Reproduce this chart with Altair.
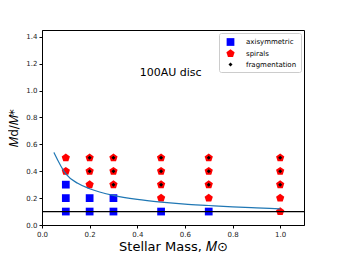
import altair as alt
import pandas as pd

# --- data ---
axi_x = [0.1, 0.1, 0.1, 0.2, 0.2, 0.3, 0.3, 0.5, 0.7]
axi_y = [0.1, 0.2, 0.3, 0.1, 0.2, 0.1, 0.2, 0.1, 0.1]

spi_x = [0.1, 0.1, 0.2, 0.2, 0.2, 0.3, 0.3, 0.3, 0.5, 0.5, 0.5, 0.5,
         0.7, 0.7, 0.7, 0.7, 1.0, 1.0, 1.0, 1.0, 1.0]
spi_y = [0.4, 0.5, 0.3, 0.4, 0.5, 0.3, 0.4, 0.5, 0.2, 0.3, 0.4, 0.5,
         0.2, 0.3, 0.4, 0.5, 0.1, 0.2, 0.3, 0.4, 0.5]

fra_x = [0.2, 0.2, 0.3, 0.3, 0.3, 0.5, 0.5, 0.5, 0.7, 0.7, 0.7, 1.0, 1.0, 1.0]
fra_y = [0.4, 0.5, 0.3, 0.4, 0.5, 0.3, 0.4, 0.5, 0.3, 0.4, 0.5, 0.3, 0.4, 0.5]

curve_x = [0.05, 0.1, 0.15, 0.2, 0.3, 0.4, 0.5, 0.6, 0.7, 0.8, 0.9, 1.0]
curve_y = [0.54, 0.38, 0.31, 0.27, 0.22, 0.19, 0.17, 0.155, 0.145, 0.135, 0.127, 0.12]

hline_y = [0.1]

x_ticks = [0, 0.2, 0.4, 0.6, 0.8, 1.0]
y_ticks = [0, 0.2, 0.4, 0.6, 0.8, 1.0, 1.2, 1.4]

categories = ["axisymmetric", "spirals", "fragmentation"]
colors = ["#0000ff", "#ff0000", "#000000"]
pentagon = "M0,-1L0.951,-0.309L0.588,0.809L-0.588,0.809L-0.951,-0.309Z"
shapes = ["square", pentagon, "diamond"]
sizes = [60, 75, 16]

pts = pd.DataFrame(
    {"x": axi_x + spi_x + fra_x,
     "y": axi_y + spi_y + fra_y,
     "kind": [categories[0]] * len(axi_x) + [categories[1]] * len(spi_x) + [categories[2]] * len(fra_x)}
)
pts["order"] = pts["kind"].map({c: i for i, c in enumerate(categories)})

xs = alt.Scale(domain=[0, 1.1], nice=False, zero=False)
ys = alt.Scale(domain=[0, 1.45], nice=False, zero=False)

xax = alt.Axis(values=x_ticks, format=".1f", title="Stellar Mass, 𝑀⊙",
               titleFontSize=13, titleFontWeight="normal", titlePadding=3, labelOverlap=False)
yax = alt.Axis(values=y_ticks, format=".1f", title="𝑀d/𝑀*",
               titleFontSize=12, titleFontWeight="normal", titlePadding=5, labelOverlap=False)

points = alt.Chart(pts).mark_point(filled=True, opacity=1, strokeWidth=0).encode(
    x=alt.X("x:Q", scale=xs, axis=xax),
    y=alt.Y("y:Q", scale=ys, axis=yax),
    color=alt.Color("kind:N", scale=alt.Scale(domain=categories, range=colors), legend=alt.Legend(title=None)),
    shape=alt.Shape("kind:N", scale=alt.Scale(domain=categories, range=shapes), legend=alt.Legend(title=None)),
    size=alt.Size("kind:N", scale=alt.Scale(type="ordinal", domain=categories, range=sizes),
                  legend=alt.Legend(title=None)),
    order=alt.Order("order:Q"),
)

curve = alt.Chart(pd.DataFrame({"x": curve_x, "y": curve_y})).mark_line(
    color="#1f77b4", strokeWidth=1.2, interpolate="monotone"
).encode(x=alt.X("x:Q", scale=xs, axis=xax), y=alt.Y("y:Q", scale=ys, axis=yax))

hline = alt.Chart(pd.DataFrame({"y": hline_y})).mark_rule(color="black", strokeWidth=1.2).encode(
    y=alt.Y("y:Q", scale=ys, axis=yax)
)

label = alt.Chart(pd.DataFrame({"t": ["100AU disc"]})).mark_text(
    fontSize=11, font="DejaVu Sans", color="black"
).encode(x=alt.datum(0.54, scale=xs, axis=xax), y=alt.datum(1.13, scale=ys, axis=yax), text="t:N")

chart = alt.layer(points, curve, hline, label).properties(
    width=262, height=195,
    autosize=alt.AutoSizeParams(type="none"),
    padding={"left": 34, "top": 22, "right": 20, "bottom": 28},
).configure_view(stroke="black", strokeWidth=1).configure_axis(
    labelFont="DejaVu Sans", titleFont="DejaVu Sans", labelFontSize=7, labelColor="#222",
    domainColor="black", tickColor="black", tickSize=3, grid=False, labelPadding=2,
    labelOverlap=False, labelFlush=False,
).configure_legend(
    orient="top-right", offset=3, padding=4, strokeColor="#cccccc", fillColor="white",
    cornerRadius=2, labelFont="DejaVu Sans", labelFontSize=7, rowPadding=2, symbolOffset=2,
    labelOffset=10,
)

chart.save("out.html", embed_options={"renderer": "svg", "actions": False})
